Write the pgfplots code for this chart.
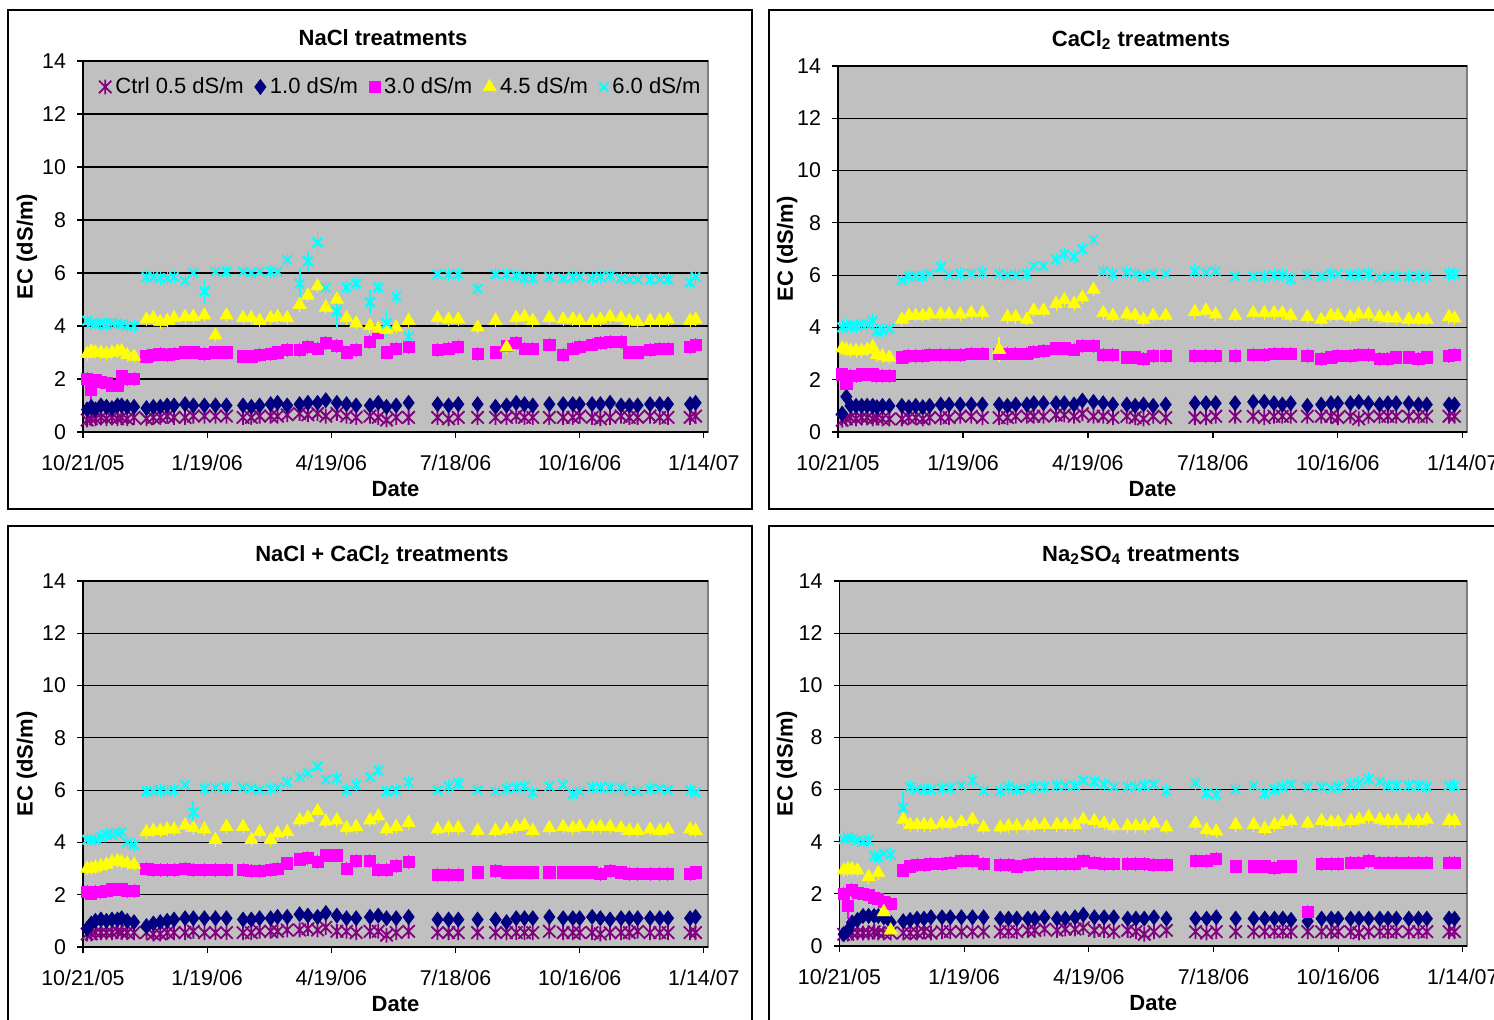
\documentclass[border=0pt]{standalone}
\usepackage{fontspec}
\setmainfont{Liberation Sans}
\usepackage{pgfplots}
\usepackage{pgfplotstable}
\pgfplotsset{compat=1.18}

\definecolor{xlgray}{HTML}{C0C0C0}
\definecolor{xlborder}{HTML}{808080}
\definecolor{xlpurple}{HTML}{800080}
\definecolor{xlnavy}{HTML}{000080}
\definecolor{xlmagenta}{HTML}{FF00FF}
\definecolor{xlyellow}{HTML}{FFFF00}
\definecolor{xlcyan}{HTML}{00FFFF}

% Excel-like star marker: an X crossed by a vertical stroke
\pgfdeclareplotmark{xlstar}{%
  \pgfpathmoveto{\pgfqpoint{-\pgfplotmarksize}{-\pgfplotmarksize}}%
  \pgfpathlineto{\pgfqpoint{\pgfplotmarksize}{\pgfplotmarksize}}%
  \pgfpathmoveto{\pgfqpoint{-\pgfplotmarksize}{\pgfplotmarksize}}%
  \pgfpathlineto{\pgfqpoint{\pgfplotmarksize}{-\pgfplotmarksize}}%
  \pgfpathmoveto{\pgfqpoint{0pt}{-1.2\pgfplotmarksize}}%
  \pgfpathlineto{\pgfqpoint{0pt}{1.2\pgfplotmarksize}}%
  \pgfusepathqstroke}

\newcommand{\ticksize}{\fontsize{10.7}{12}\selectfont}
\newcommand{\labsize}{\bfseries\fontsize{11}{13}\selectfont}

\pgfplotsset{
  panel/.style={
    scale only axis,
    xmin=0, xmax=453, ymin=0, ymax=14,
    xtick={0,90,180,270,360,450},
    xticklabels={10/21/05,1/19/06,4/19/06,7/18/06,10/16/06,1/14/07},
    ytick={0,2,...,14},
    axis background/.style={fill=xlgray, draw=xlborder, line width=0.8pt},
    axis x line*=bottom, axis y line*=left,
    axis line style={black, line width=0.7pt, -},
    tick align=outside, major tick length=3pt,
    tick style={black, line width=0.6pt},
    ymajorgrids, grid style={black, line width=0.6pt},
    tick label style={font=\ticksize},
    /pgf/number format/assume math mode=true,
    xticklabel style={yshift=-5pt},
    yticklabel style={xshift=-2pt},
    xlabel={Date}, ylabel={EC (dS/m)},
    label style={font=\labsize},
    xlabel style={at={(axis description cs:0.5,-0.155)}, anchor=center},
    clip=false,
  },
  xlleg/.style={legend image code/.code={%
    \draw[mark repeat=2,mark phase=2,##1] plot coordinates {(0pt,0pt) (3pt,0pt) (7pt,0pt)};}},
  zcap/.style={error bars/.cd, y dir=both, y fixed=0,
    error mark options={mark size=3.4pt, line width=0.5pt}},
  ecap/.style={forget plot, error bars/.cd, y dir=both, y explicit,
    error bar style={line width=0.9pt},
    error mark options={mark size=2.8pt, line width=0.9pt}},
  s1/.style={only marks, color=xlpurple, mark=xlstar, mark size=3.1pt,
    mark options={line width=0.9pt}, xlleg},
  s2/.style={only marks, color=xlnavy, mark=diamond*, mark size=3.7pt, xlleg},
  s3/.style={only marks, color=xlmagenta, mark=square*, mark size=2.8pt, xlleg},
  s4/.style={only marks, color=xlyellow, mark=triangle*, mark size=3.7pt, xlleg},
  s5/.style={only marks, color=xlcyan, mark=x, mark size=3.3pt,
    mark options={line width=1pt}, xlleg},
}

% columns: day since 10/21/05, Ctrl 0.5, 1.0, 3.0, 4.5, 6.0 dS/m
\pgfplotstableread{
d c a b e f
3 .45 .85 2.0 2.95 4.2
6 .5 .95 1.6 3.05 4.1
9 .5 .85 1.95 3.0 4.05
13 .55 1.0 1.9 3.0 4.1
17 .5 .95 1.85 2.95 4.05
21 .55 .9 1.75 3.0 4.1
25 .5 1.0 1.75 3.05 4.1
28 .55 1.0 2.1 3.05 4.05
32 .5 .95 2.0 2.9 4.0
37 .55 .95 2.0 2.85 4.0
46 .5 .9 2.85 4.25 5.85
51 .55 .95 2.9 4.3 5.85
56 .55 .95 2.95 4.15 5.8
61 .6 1.0 2.9 4.2 5.8
66 .55 1.0 2.95 4.3 5.85
74 .55 1.05 3.0 4.35 5.7
80 .6 1.0 3.0 4.35 6.0
88 .6 1.0 2.95 4.4 5.3
96 .6 1.0 3.0 3.65 6.05
104 .6 1.0 3.0 4.4 6.05
116 .55 1.0 2.85 4.3 6.05
122 .55 .95 2.85 4.3 6.0
128 .6 1.0 2.9 4.2 6.05
136 .6 1.05 2.95 4.3 6.05
141 .6 1.1 3.0 4.35 6.05
148 .65 1.0 3.1 4.3 6.5
157 .7 1.05 3.1 4.8 5.6
163 .65 1.1 3.2 5.15 6.45
170 .7 1.1 3.15 5.5 7.15
176 .6 1.2 3.35 4.7 5.45
184 .7 1.1 3.25 5.0 4.55
191 .6 1.05 3.0 4.3 5.45
198 .55 1.0 3.1 4.1 5.6
208 .6 1.0 3.4 4.0 4.9
214 .55 1.1 3.75 3.9 5.45
220 .45 .95 3.0 3.85 4.1
227 .55 1.0 3.15 3.95 5.1
236 .55 1.1 3.2 4.2 3.6
257 .55 1.05 3.1 4.3 5.95
265 .5 1.0 3.15 4.25 5.95
272 .55 1.05 3.2 4.25 5.95
286 .55 1.05 2.95 3.95 5.4
299 .55 .95 3.0 4.2 5.95
307 .55 1.0 3.25 3.2 5.95
314 .6 1.1 3.35 4.3 5.9
320 .55 1.05 3.15 4.35 5.8
326 .55 1.0 3.15 4.2 5.8
338 .55 1.05 3.3 4.3 5.85
348 .55 1.05 2.9 4.25 5.8
355 .55 1.05 3.15 4.25 5.85
360 .6 1.05 3.2 4.2 5.85
369 .55 1.05 3.3 4.2 5.8
375 .5 1.05 3.35 4.25 5.85
382 .55 1.1 3.4 4.35 5.9
390 .6 1.0 3.4 4.3 5.8
396 .55 1.0 3.0 4.2 5.75
402 .55 1.0 3.0 4.15 5.75
411 .6 1.05 3.1 4.2 5.75
418 .55 1.05 3.15 4.2 5.75
424 .55 1.05 3.15 4.25 5.75
440 .55 1.05 3.2 4.2 5.65
444 .6 1.1 3.3 4.25 5.85
}\tabNaCl

\pgfplotstableread{
d c a b e f
3 .45 .7 2.2 3.2 4.0
6 .5 1.35 1.85 3.15 4.1
9 .55 1.0 2.15 3.1 4.05
13 .5 1.0 2.15 3.1 4.05
17 .55 1.0 2.2 3.1 4.1
21 .55 1.0 2.2 3.15 4.1
25 .5 1.0 2.2 3.25 4.25
28 .55 .95 2.15 2.95 3.85
32 .5 1.0 2.15 2.9 3.9
37 .5 1.0 2.15 2.85 3.95
46 .5 1.0 2.85 4.3 5.8
51 .55 .95 2.9 4.45 5.95
56 .55 1.0 2.9 4.45 5.95
61 .5 .95 2.9 4.45 5.95
66 .55 1.0 2.95 4.5 6.05
74 .55 1.05 2.95 4.5 6.3
80 .55 1.05 2.95 4.5 6.0
88 .6 1.05 2.95 4.5 6.05
96 .6 1.05 3.0 4.55 6.05
104 .55 1.05 3.0 4.55 6.1
116 .55 1.05 3.0 3.15 6.05
122 .55 1.0 3.0 4.4 6.0
128 .6 1.05 3.0 4.4 6.0
136 .6 1.05 3.0 4.3 6.05
141 .6 1.1 3.05 4.65 6.35
148 .6 1.1 3.1 4.65 6.35
157 .65 1.1 3.2 4.9 6.6
163 .65 1.1 3.2 5.05 6.8
170 .6 1.05 3.15 4.9 6.7
176 .7 1.2 3.3 5.15 7.0
184 .6 1.15 3.3 5.45 7.35
191 .6 1.1 2.95 4.55 6.15
198 .55 1.05 2.95 4.45 6.05
208 .6 1.05 2.85 4.5 6.1
214 .55 1.0 2.85 4.45 6.05
220 .5 1.05 2.8 4.3 5.95
227 .6 1.0 2.9 4.45 6.05
236 .55 1.05 2.9 4.45 6.05
257 .55 1.1 2.9 4.6 6.15
265 .55 1.1 2.9 4.65 6.1
272 .6 1.1 2.9 4.5 6.15
286 .6 1.1 2.9 4.45 5.95
299 .6 1.15 2.95 4.55 5.95
307 .55 1.15 2.95 4.55 5.95
314 .6 1.1 3.0 4.55 6.0
320 .6 1.05 3.0 4.55 6.0
326 .6 1.1 3.0 4.45 5.85
338 .6 1.0 2.9 4.4 6.0
348 .6 1.05 2.8 4.3 5.95
355 .6 1.1 2.85 4.45 6.05
360 .55 1.1 2.9 4.45 6.05
369 .6 1.1 2.9 4.4 6.0
375 .5 1.15 2.95 4.5 6.0
382 .6 1.1 2.95 4.5 6.05
390 .6 1.05 2.8 4.4 5.9
396 .6 1.1 2.8 4.35 5.95
402 .6 1.1 2.85 4.35 5.95
411 .6 1.1 2.85 4.3 5.95
418 .6 1.05 2.8 4.3 5.95
424 .6 1.05 2.85 4.3 5.95
440 .6 1.05 2.9 4.4 6.05
444 .6 1.05 2.95 4.35 6.05
}\tabCaCl

\pgfplotstableread{
d c a b e f
3 .5 .7 2.1 3.0 4.1
6 .5 .9 2.05 3.0 4.1
9 .55 1.0 2.1 3.05 4.1
13 .55 1.05 2.1 3.1 4.2
17 .55 1.0 2.15 3.15 4.3
21 .55 1.05 2.2 3.25 4.3
25 .6 1.05 2.2 3.3 4.35
28 .55 1.1 2.2 3.25 4.4
32 .55 1.0 2.15 3.2 4.0
37 .55 .95 2.15 3.15 3.9
46 .55 .8 3.0 4.4 5.95
51 .5 .9 2.95 4.45 5.95
56 .5 .95 2.95 4.45 6.0
61 .55 1.0 2.95 4.5 5.95
66 .55 1.05 2.95 4.5 6.0
74 .55 1.1 3.0 4.65 6.2
80 .6 1.1 2.95 4.55 5.15
88 .55 1.1 2.95 4.5 6.05
96 .55 1.1 2.95 4.1 6.1
104 .55 1.1 2.95 4.6 6.1
116 .55 1.05 2.95 4.6 6.1
122 .55 1.05 2.9 4.1 6.05
128 .6 1.1 2.9 4.4 6.0
136 .6 1.1 2.95 4.1 6.05
141 .6 1.15 3.0 4.35 6.1
148 .65 1.15 3.2 4.4 6.3
157 .65 1.25 3.35 4.85 6.5
163 .7 1.2 3.4 4.95 6.65
170 .65 1.15 3.25 5.2 6.9
176 .75 1.3 3.5 4.8 6.4
184 .6 1.2 3.5 4.85 6.45
191 .6 1.1 3.0 4.55 6.0
198 .55 1.1 3.3 4.6 6.2
208 .6 1.15 3.3 4.85 6.5
214 .6 1.2 2.95 5.0 6.75
220 .45 1.1 2.95 4.5 5.95
227 .55 1.1 3.1 4.6 6.0
236 .6 1.15 3.25 4.75 6.3
257 .55 1.05 2.75 4.5 6.0
265 .55 1.05 2.75 4.55 6.15
272 .55 1.05 2.75 4.55 6.25
286 .55 1.05 2.85 4.45 6.0
299 .55 1.05 2.9 4.45 5.95
307 .55 .95 2.85 4.5 6.05
314 .55 1.1 2.85 4.6 6.1
320 .55 1.1 2.85 4.65 6.15
326 .55 1.1 2.85 4.45 5.9
338 .6 1.15 2.85 4.55 6.15
348 .55 1.1 2.85 4.6 6.2
355 .55 1.1 2.85 4.55 5.85
360 .55 1.1 2.85 4.6 5.95
369 .55 1.15 2.85 4.6 6.1
375 .5 1.1 2.8 4.6 6.1
382 .55 1.05 2.9 4.6 6.1
390 .55 1.1 2.85 4.55 6.1
396 .55 1.1 2.8 4.45 5.95
402 .6 1.1 2.8 4.45 5.95
411 .55 1.1 2.8 4.5 6.05
418 .55 1.1 2.8 4.45 6.05
424 .55 1.1 2.8 4.5 6.0
440 .55 1.1 2.8 4.5 6.0
444 .55 1.15 2.85 4.45 5.9
}\tabMix

\pgfplotstableread{
d c a b e f
3 .45 .45 2.0 2.9 4.1
6 .45 .6 1.55 2.95 4.15
9 .5 .9 2.15 2.95 4.1
13 .5 1.0 2.05 2.9 4.05
17 .5 1.15 2.0 nan 4.0
21 .5 1.15 1.95 2.65 4.05
25 .55 1.15 1.85 nan 3.45
28 .5 1.15 1.8 2.8 3.4
32 .5 1.1 1.7 1.3 3.55
37 .5 .9 1.6 .6 3.5
46 .5 .95 2.9 4.85 5.3
51 .5 1.0 3.05 4.65 6.1
56 .5 1.05 3.1 4.65 6.0
61 .55 1.05 3.1 4.65 6.0
66 .5 1.1 3.15 4.65 6.0
74 .55 1.1 3.15 4.7 6.05
80 .55 1.1 3.2 4.7 6.05
88 .55 1.1 3.25 4.75 6.15
96 .55 1.1 3.25 4.85 6.35
104 .55 1.1 3.15 4.55 5.95
116 .55 1.05 3.1 4.55 5.95
122 .55 1.05 3.1 4.6 6.1
128 .55 1.05 3.05 4.6 6.0
136 .6 1.05 3.1 4.6 6.05
141 .6 1.05 3.15 4.65 6.1
148 .65 1.1 3.15 4.65 6.1
157 .6 1.05 3.15 4.65 6.15
163 .65 1.05 3.15 4.65 6.15
170 .65 1.1 3.15 4.65 6.15
176 .7 1.2 3.25 4.85 6.35
184 .6 1.1 3.2 4.8 6.3
191 .6 1.1 3.15 4.7 6.2
198 .55 1.1 3.15 4.6 6.1
208 .6 1.05 3.15 4.6 6.1
214 .55 1.05 3.15 4.6 6.1
220 .45 1.05 3.15 4.6 6.15
227 .55 1.1 3.1 4.7 6.2
236 .6 1.05 3.1 4.55 5.95
257 .55 1.05 3.25 4.7 6.25
265 .5 1.05 3.25 4.45 5.85
272 .55 1.1 3.35 4.4 5.8
286 .55 1.05 3.05 4.65 6.0
299 .55 1.05 3.05 4.65 6.15
307 .55 1.05 3.05 4.5 5.85
314 .55 1.05 3.0 4.65 6.0
320 .55 1.05 3.05 4.75 6.1
326 .55 1.0 3.05 4.8 6.2
338 .55 .95 1.3 4.7 6.1
348 .55 1.05 3.15 4.8 6.1
355 .55 1.05 3.15 4.75 6.05
360 .55 1.05 3.15 4.75 6.1
369 .55 1.05 3.2 4.8 6.2
375 .5 1.05 3.2 4.85 6.25
382 .55 1.05 3.25 4.95 6.4
390 .55 1.05 3.2 4.85 6.3
396 .55 1.05 3.2 4.8 6.15
402 .55 1.05 3.2 4.8 6.15
411 .55 1.05 3.2 4.8 6.15
418 .55 1.05 3.2 4.8 6.15
424 .55 1.05 3.2 4.85 6.1
440 .55 1.05 3.2 4.8 6.15
444 .55 1.05 3.2 4.8 6.15
}\tabSulf

\begin{document}
\begin{tikzpicture}
\useasboundingbox (0,0) rectangle (747pt,510pt);
\clip (0,0) rectangle (747pt,510pt);

% chart frames
\draw[line width=0.8pt] (4pt,255.5pt) rectangle (376pt,505pt);
\draw[line width=0.8pt] (384.5pt,255.5pt) rectangle (770pt,505pt);
\draw[line width=0.8pt] (4pt,-5pt) rectangle (376pt,247pt);
\draw[line width=0.8pt] (384.5pt,-5pt) rectangle (770pt,247pt);

% chart titles
\node[font=\labsize] at (191.5pt,491pt) {NaCl treatments};
\node[font=\labsize] at (570.5pt,490pt) {CaCl\textsubscript{2} treatments};
\node[font=\labsize] at (191pt,232.5pt) {NaCl + CaCl\textsubscript{2} treatments};
\node[font=\labsize] at (570.5pt,232.5pt) {Na\textsubscript{2}SO\textsubscript{4} treatments};

% NaCl
\begin{axis}[panel, at={(41.5pt,294pt)}, anchor=south west,
  width=312.5pt, height=185.5pt,
  ylabel style={at={(axis description cs:-0.0896,0.5)}, anchor=center},
  legend columns=5, legend cell align=left,
  legend style={at={(axis description cs:0.51,0.93)}, anchor=center,
    draw=none, fill=none, inner sep=0pt, font=\fontsize{11}{13}\selectfont,
    /tikz/every even column/.append style={column sep=3.5pt}}]
\addplot[s1, zcap] table[x=d,y=c]{\tabNaCl};
\addlegendentry{Ctrl 0.5 dS/m}
\addplot[s2, zcap] table[x=d,y=a]{\tabNaCl};
\addlegendentry{1.0 dS/m}
\addplot[s3, zcap] table[x=d,y=b]{\tabNaCl};
\addlegendentry{3.0 dS/m}
\addplot[s3, ecap] coordinates {(6,1.6) +- (0,0.4)};
\addplot[s4, zcap] table[x=d,y=e]{\tabNaCl};
\addlegendentry{4.5 dS/m}
\addplot[s5, zcap] table[x=d,y=f]{\tabNaCl};
\addlegendentry{6.0 dS/m}
\addplot[s5, ecap] coordinates {(88,5.3) +- (0,0.25) (157,5.6) +- (0,0.37)
  (163,6.45) +- (0,0.17) (170,7.15) +- (0,0.2) (184,4.55) +- (0,0.4)
  (208,4.9) +- (0,0.25) (220,4.1) +- (0,0.3)};
\end{axis}

% CaCl2
\begin{axis}[panel, at={(419pt,294pt)}, anchor=south west,
  width=314.5pt, height=183pt,
  ylabel style={at={(axis description cs:-0.081,0.5)}, anchor=center}]
\addplot[s1, zcap] table[x=d,y=c]{\tabCaCl};
\addplot[s2, zcap] table[x=d,y=a]{\tabCaCl};
\addplot[s3, zcap] table[x=d,y=b]{\tabCaCl};
\addplot[s4, zcap] table[x=d,y=e]{\tabCaCl};
\addplot[s4, ecap] coordinates {(116,3.15) +- (0,0.27)};
\addplot[s5, zcap] table[x=d,y=f]{\tabCaCl};
\end{axis}

% NaCl + CaCl2
\begin{axis}[panel, at={(41.5pt,36.5pt)}, anchor=south west,
  width=312.5pt, height=183pt,
  ylabel style={at={(axis description cs:-0.0896,0.5)}, anchor=center}]
\addplot[s1, zcap] table[x=d,y=c]{\tabMix};
\addplot[s2, zcap] table[x=d,y=a]{\tabMix};
\addplot[s3, zcap] table[x=d,y=b]{\tabMix};
\addplot[s4, zcap] table[x=d,y=e]{\tabMix};
\addplot[s5, zcap] table[x=d,y=f]{\tabMix};
\addplot[s5, ecap] coordinates {(80,5.15) +- (0,0.22)};
\end{axis}

% Na2SO4
\begin{axis}[panel, at={(419.75pt,37pt)}, anchor=south west,
  width=313.75pt, height=182.5pt,
  ylabel style={at={(axis description cs:-0.0837,0.5)}, anchor=center}]
\addplot[s1, zcap] table[x=d,y=c]{\tabSulf};
\addplot[s2, zcap] table[x=d,y=a]{\tabSulf};
\addplot[s3, zcap] table[x=d,y=b]{\tabSulf};
\addplot[s3, ecap] coordinates {(6,1.55) +- (0,0.3)};
\addplot[s4, zcap] table[x=d,y=e]{\tabSulf};
\addplot[s4, ecap] coordinates {(32,1.3) +- (0,0.2)};
\addplot[s5, zcap] table[x=d,y=f]{\tabSulf};
\addplot[s5, ecap] coordinates {(46,5.3) +- (0,0.4)};
\end{axis}
\end{tikzpicture}
\end{document}
